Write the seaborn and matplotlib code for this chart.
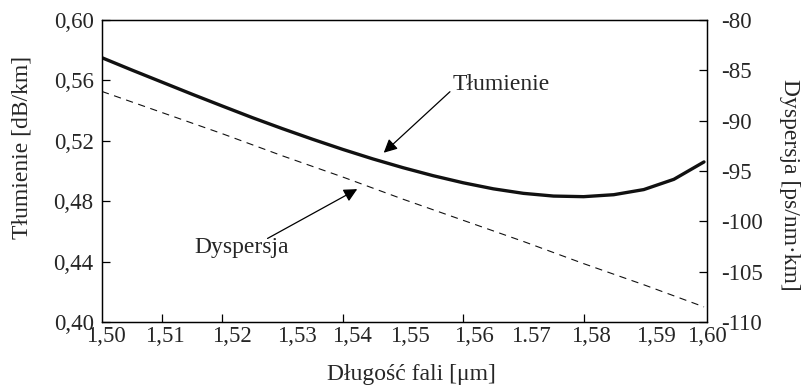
import matplotlib
matplotlib.use("Agg")
import matplotlib.pyplot as plt
import pandas as pd
import seaborn as sns

# attenuation curve (left axis), read every 0.005 um
wavelength_att = [1.500, 1.505, 1.510, 1.515, 1.520, 1.525, 1.530, 1.535, 1.540, 1.545, 1.550,
                  1.555, 1.560, 1.565, 1.570, 1.575, 1.580, 1.585, 1.590, 1.595, 1.600]
attenuation = [0.5750, 0.5668, 0.5588, 0.5508, 0.5430, 0.5353, 0.5280, 0.5210, 0.5143, 0.5080, 0.5022,
               0.4969, 0.4922, 0.4882, 0.4852, 0.4834, 0.4830, 0.4843, 0.4877, 0.4945, 0.5060]

# dispersion (right axis)
wavelength_disp = [1.50, 1.51, 1.52, 1.53, 1.54, 1.55, 1.56, 1.57, 1.58, 1.59, 1.60]
dispersion = [-87.1, -89.2, -91.3, -93.5, -95.6, -97.8, -99.9, -102.0, -104.2, -106.3, -108.5]

# x tick marks and the (slightly shifted) x tick labels of the original figure
x_tick_marks = [1.51, 1.52, 1.54, 1.56, 1.58]
x_label_pos = [1.5007, 1.5104, 1.5216, 1.5323, 1.5415, 1.5511, 1.5618, 1.5712, 1.5813, 1.5921, 1.6005]
x_labels = ["1,50", "1,51", "1,52", "1,53", "1,54", "1,55", "1,56", "1.57", "1,58", "1,59", "1,60"]
left_ticks = [0.40, 0.44, 0.48, 0.52, 0.56, 0.60]
left_labels = ["0,40", "0,44", "0,48", "0,52", "0,56", "0,60"]
right_ticks = [-110, -105, -100, -95, -90, -85, -80]
right_labels = ["-110", "-105", "-100", "-95", "-90", "-85", "-80"]

sns.set_theme(style="ticks")
plt.rcParams['font.family'] = ['Liberation Serif', 'DejaVu Serif']
FS_TICK = 16.5
FS = 17

df_att = pd.DataFrame({"wl": wavelength_att, "att": attenuation})
df_disp = pd.DataFrame({"wl": wavelength_disp, "disp": dispersion})

fig = plt.figure(figsize=(8.03, 3.92), dpi=100)
ax = fig.add_axes([102 / 803, 1 - 322 / 392, 605 / 803, 302 / 392])
ax2 = ax.twinx()

sns.lineplot(data=df_att, x="wl", y="att", ax=ax, color="#111111", linewidth=2.4)
sns.lineplot(data=df_disp, x="wl", y="disp", ax=ax2, color="#111111", linewidth=0.8,
             linestyle=(0, (6.5, 5.0)))

ax.set_xlim(1.50, 1.60)
ax.set_ylim(0.40, 0.60)
ax2.set_ylim(-110, -80)

for a in (ax, ax2):
    for s in a.spines.values():
        s.set_color("black")
        s.set_linewidth(0.9)

# x axis: labels without marks, marks without labels
ax.set_xticks(x_label_pos)
ax.set_xticklabels(x_labels, fontsize=FS_TICK)
ax.tick_params(axis="x", which="major", length=0, pad=3)
ax.set_xticks(x_tick_marks, minor=True)
ax.tick_params(axis="x", which="minor", direction="in", length=6, width=0.9, color="black")

ax.set_yticks(left_ticks)
ax.set_yticklabels(left_labels, fontsize=FS_TICK)
ax.tick_params(axis="y", direction="in", length=6, width=0.9, pad=6, color="black")

ax2.set_yticks(right_ticks)
ax2.set_yticklabels(right_labels, fontsize=FS_TICK)
ax2.tick_params(axis="y", direction="in", length=6, width=0.9, pad=10, color="black")

ax.set_xlabel("Długość fali [μm]", fontsize=FS, va="center")
ax.xaxis.set_label_coords(0.511, -0.175)
ax.set_ylabel("Tłumienie [dB/km]", fontsize=FS, va="center")
ax.yaxis.set_label_coords(-0.132, 0.579)
ax2.set_ylabel("Dyspersja [ps/nm·km]", fontsize=FS, rotation=270, va="center")
ax2.yaxis.set_label_coords(1.137, 0.454)

arrow = dict(arrowstyle="-|>", color="black", lw=0.9, mutation_scale=20, shrinkA=0, shrinkB=0)
ax.annotate("", xy=(1.5468, 0.5121), xytext=(1.5578, 0.5525), arrowprops=arrow)
ax.text(1.5663, 0.5576, "Tłumienie", fontsize=FS, ha="center", va="center")
ax2.annotate("", xy=(1.5424, -96.8), xytext=(1.5275, -101.7), arrowprops=arrow)
ax2.text(1.5232, -102.55, "Dyspersja", fontsize=FS, ha="center", va="center")

fig.savefig("out.png", dpi=100)
